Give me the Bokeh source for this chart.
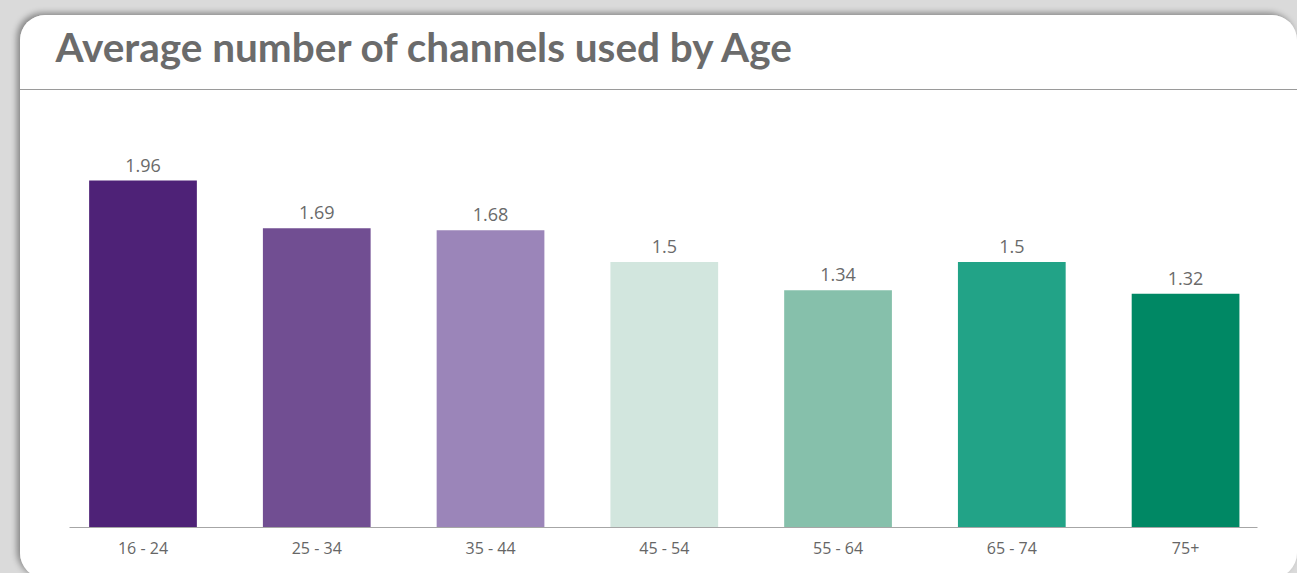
from bokeh.plotting import figure
from bokeh.layouts import column
from bokeh.models import Range1d, FixedTicker, ColumnDataSource, Label
from bokeh.embed import file_html
from bokeh.resources import INLINE
from bokeh.core.properties import value

title_text = "Average number of channels used by Age"
categories = ["16 - 24", "25 - 34", "35 - 44", "45 - 54", "55 - 64", "65 - 74", "75+"]
values = [1.96, 1.69, 1.68, 1.5, 1.34, 1.5, 1.32]
value_labels = ["1.96", "1.69", "1.68", "1.5", "1.34", "1.5", "1.32"]
colors = ["#4e2277", "#714e92", "#9b85b9", "#d2e6de", "#86c0ab", "#22a387", "#008864"]

xs = list(range(len(categories)))
src = ColumnDataSource(dict(x=xs, v=values, lab=value_labels, c=colors))

card_styles = {
    "border-radius": "25px",
    "overflow": "hidden",
    "box-shadow": "-3px -2px 6px rgba(0,0,0,0.4)",
    "background": "linear-gradient(to bottom, #ffffff 0px, #ffffff 74px, #9a9a9a 74px, #9a9a9a 75px, #ffffff 75px)",
}

p = figure(width=1277, height=563, output_backend="svg", toolbar_location=None, title=None,
           x_range=Range1d(-0.705, 6.414), y_range=Range1d(0, 2.8927),
           min_border_left=0, min_border_right=40, min_border_top=0, min_border_bottom=51,
           margin=(15, 0, 0, 20), styles=card_styles)
p.background_fill_color = None
p.border_fill_color = None
p.outline_line_color = None
p.grid.visible = False
p.yaxis.visible = False

p.add_layout(Label(x=35, y=481, x_units="screen", y_units="screen", text=title_text,
                   text_font="Lato", text_font_style="bold", text_font_size="40.5px",
                   text_color="#6b6b6b", text_baseline="alphabetic", text_align="left"))

p.vbar(x="x", top="v", width=0.62, fill_color="c", line_color=None, source=src)
p.text(x="x", y="v", text="lab", text_align="center", text_baseline="bottom", y_offset=-9,
       text_font=value("Open Sans"), text_font_size="18px", text_color="#6a6a6a", source=src)

ax = p.xaxis[0]
ax.bounds = (-0.423, 6.414)
ax.ticker = FixedTicker(ticks=xs)
ax.major_label_overrides = {i: c for i, c in zip(xs, categories)}
ax.major_tick_line_color = None
ax.minor_tick_line_color = None
ax.axis_line_color = "#a6a6a6"
ax.axis_line_width = 1
ax.major_label_text_font = "Open Sans"
ax.major_label_text_font_size = "16px"
ax.major_label_text_color = "#666666"
ax.major_label_standoff = 3

page = column(p, width=1297, height=573, styles={"background-color": "#dadada", "overflow": "hidden"})

open("out.html", "w").write(file_html(page, INLINE))
